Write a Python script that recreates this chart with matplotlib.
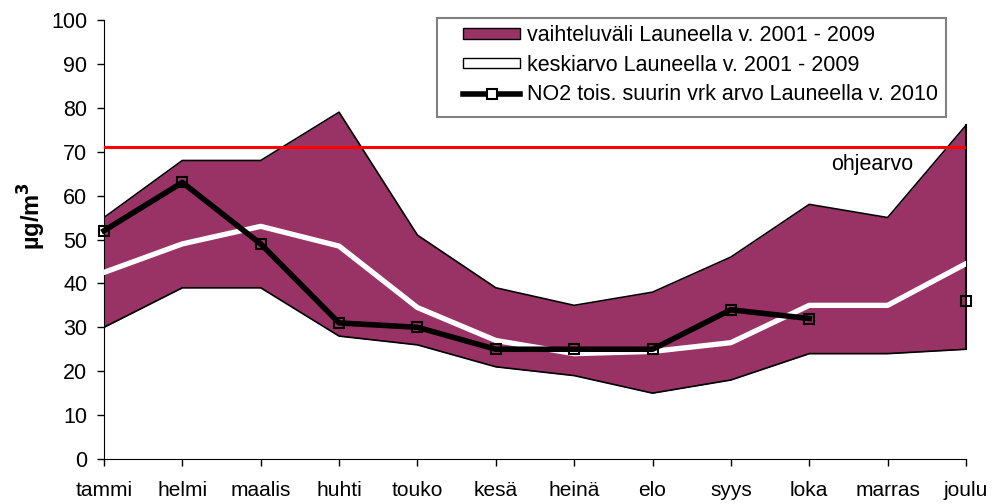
import numpy as np
import matplotlib
matplotlib.use("Agg")
import matplotlib.pyplot as plt
from matplotlib.patches import Patch, Rectangle
from matplotlib.lines import Line2D

# months and values
months = ["tammi", "helmi", "maalis", "huhti", "touko", "kesä",
          "heinä", "elo", "syys", "loka", "marras", "joulu"]
range_max = [55, 68, 68, 79, 51, 39, 35, 38, 46, 58, 55, 76]
range_min = [30, 39, 39, 28, 26, 21, 19, 15, 18, 24, 24, 25]
mean_2001_2009 = [42.5, 49, 53, 48.5, 34.5, 27, 24, 24.5, 26.5, 35, 35, 44.5]
no2_2010 = [52, 63, 49, 31, 30, 25, 25, 25, 34, 32, np.nan, 36]
guide_value = 71

plt.rcParams['font.family'] = ['Liberation Sans', 'DejaVu Sans']

fig = plt.figure(figsize=(9.94, 5.04), dpi=100)
ax = fig.add_axes([0.1046, 0.0893, 0.8672, 0.8710])

x = np.arange(len(months))
purple = "#993366"

# range band
ax.fill_between(x, range_min, range_max, color=purple, lw=0, zorder=1)
ax.plot(x, range_max, color="black", lw=1.2, zorder=2)
ax.plot(x, range_min, color="black", lw=1.2, zorder=2)
ax.plot([x[-1], x[-1]], [range_min[-1], range_max[-1]], color="black", lw=1.5,
        zorder=2, clip_on=False)

# mean
ax.plot(x, mean_2001_2009, color="white", lw=3.8, zorder=3)

# guideline
ax.plot([x[0], x[-1]], [guide_value, guide_value], color="red", lw=2.2, zorder=4)
ax.text(9.8, 67.0, "ohjearvo", fontsize=15.5, ha="center", va="center")

# 2010 values
ax.plot(x, no2_2010, color="black", lw=4, marker="s", ms=7.5, mfc="none",
        mec="black", mew=1.5, zorder=5, clip_on=False)

ax.set_xlim(x[0], x[-1])
ax.set_ylim(0, 100)
ax.set_yticks(range(0, 101, 10))
ax.set_xticks(x)
ax.set_xticklabels(months)
ax.tick_params(axis="y", labelsize=15.5, length=5, width=1, direction="out", pad=7)
ax.tick_params(axis="x", labelsize=15, length=5, width=1, direction="out", pad=11)
ax.spines["top"].set_visible(False)
ax.spines["right"].set_visible(False)
ax.set_ylabel("µg/m$^\\mathbf{3}$", fontsize=17, fontweight="bold")
ax.yaxis.set_label_coords(-0.065, 0.553)

# legend frame drawn separately so the padding matches
fig.patches.append(Rectangle((0.4396, 0.768), 0.512, 0.196, transform=fig.transFigure,
                             facecolor="white", edgecolor="#808080", lw=1.5, zorder=9))

handles = [
    Patch(facecolor=purple, edgecolor="black", lw=1),
    Patch(facecolor="white", edgecolor="black", lw=1),
    Line2D([], [], color="black", lw=4, marker="s", ms=7, mfc="white", mec="black", mew=1.5),
]
labels = ["vaihteluväli Launeella v. 2001 - 2009",
          "keskiarvo Launeella v. 2001 - 2009",
          "NO2 tois. suurin vrk arvo Launeella v. 2010"]
leg = fig.legend(handles, labels, loc="upper left", bbox_to_anchor=(0.4658, 0.95),
                 bbox_transform=fig.transFigure, fontsize=15.5, frameon=False,
                 handlelength=2.65, handleheight=0.35, handletextpad=0.3,
                 borderpad=0, labelspacing=0.4, borderaxespad=0)
leg.set_zorder(10)

fig.savefig("out.png", dpi=100)
